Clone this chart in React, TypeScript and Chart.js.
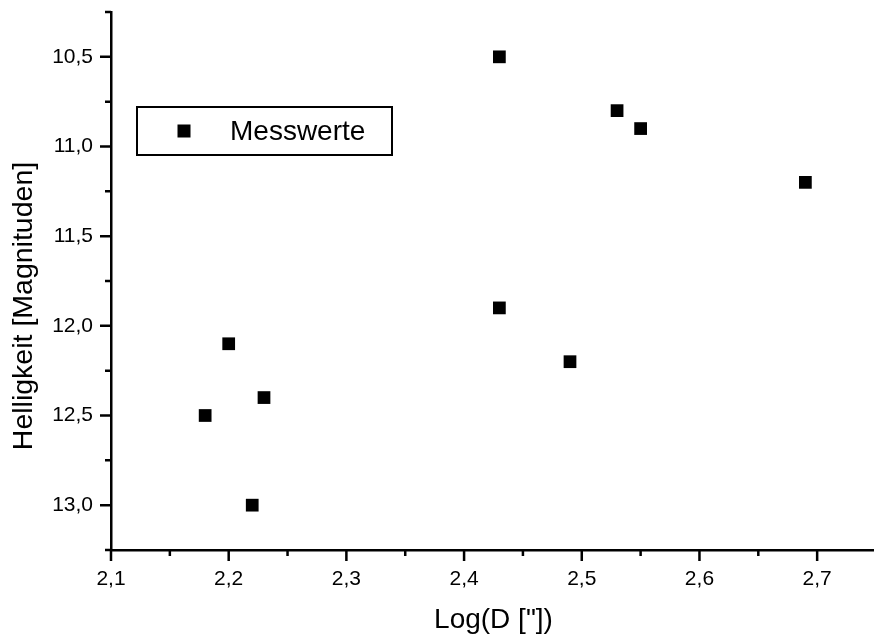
import React, { useEffect, useRef } from "react";
import { Chart, registerables } from "chart.js";

Chart.register(...registerables);

const xValues: number[] = [2.18, 2.2, 2.22, 2.23, 2.43, 2.43, 2.49, 2.53, 2.55, 2.69];
const yValues: number[] = [12.5, 12.1, 13.0, 12.4, 10.5, 11.9, 12.2, 10.8, 10.9, 11.2];
const seriesName = "Messwerte";
const xTitle = "Log(D [\"])";
const yTitle = "Helligkeit [Magnituden]";
const xMin = 2.1, xMax = 2.75, xStep = 0.05, xMajor = 0.1;
const yMin = 10.25, yMax = 13.25, yStep = 0.25, yMajor = 0.5;

const FONT = "'Liberation Sans', Arial, Helvetica, sans-serif";

const isMajor = (v: number, m: number) => Math.abs(v / m - Math.round(v / m)) < 1e-6;
const fmt = (v: number) => v.toFixed(1).replace(".", ",");

const ticksPlugin = {
  id: "customTicks",
  afterDraw(chart: any) {
    const { ctx } = chart;
    const xs = chart.scales.x;
    const ys = chart.scales.y;
    ctx.save();
    ctx.strokeStyle = "#000";
    ctx.lineWidth = 2.5;
    ctx.beginPath();
    for (const t of xs.ticks) {
      const px = xs.getPixelForValue(t.value);
      const len = isMajor(t.value, xMajor) ? 11 : 6;
      ctx.moveTo(px, xs.top);
      ctx.lineTo(px, xs.top + len);
    }
    for (const t of ys.ticks) {
      const py = ys.getPixelForValue(t.value);
      const len = isMajor(t.value, yMajor) ? 11 : 6;
      ctx.moveTo(ys.right, py);
      ctx.lineTo(ys.right - len, py);
    }
    ctx.stroke();

    // y-axis title (placed slightly below the axis centre, as in the reference)
    ctx.save();
    ctx.fillStyle = "#000";
    ctx.font = `28.5px ${FONT}`;
    ctx.textAlign = "center";
    ctx.textBaseline = "alphabetic";
    ctx.translate(31.5, 306);
    ctx.rotate(-Math.PI / 2);
    ctx.fillText(yTitle, 0, 0);
    ctx.restore();

    // legend box
    const ca = chart.chartArea;
    const bx = ca.left + 26, by = ca.top + 95, bw = 255, bh = 48;
    ctx.lineWidth = 2;
    ctx.strokeRect(bx, by, bw, bh);
    ctx.fillStyle = "#000";
    const ms = 13;
    const mx = bx + 47, my = by + 24;
    ctx.fillRect(mx - ms / 2, my - ms / 2, ms, ms);
    ctx.font = `28px ${FONT}`;
    ctx.textBaseline = "middle";
    ctx.textAlign = "left";
    ctx.fillText(seriesName, bx + 93, my + 1);
    ctx.restore();
  },
};

const zeroPad = (s: any) => {
  s.paddingTop = 0;
  s.paddingBottom = 0;
  s.paddingLeft = 0;
  s.paddingRight = 0;
};

export default function App() {
  const ref = useRef<HTMLCanvasElement | null>(null);
  useEffect(() => {
    if (!ref.current) return;
    const chart = new Chart(ref.current, {
      type: "scatter",
      data: {
        datasets: [
          {
            label: seriesName,
            data: xValues.map((x, i) => ({ x, y: yValues[i] })),
            pointStyle: "rect",
            pointRadius: 9,
            pointHoverRadius: 9,
            backgroundColor: "#000",
            borderWidth: 0,
          },
        ],
      },
      options: {
        responsive: false,
        animation: false,
        events: [],
        layout: { autoPadding: false, padding: { top: 12, right: 0, left: 0, bottom: 0 } },
        plugins: { legend: { display: false }, tooltip: { enabled: false } },
        scales: {
          x: {
            type: "linear",
            min: xMin,
            max: xMax,
            afterFit: (s: any) => { s.height = 89; zeroPad(s); },
            grid: { display: false, drawTicks: false },
            border: { display: true, color: "#000", width: 2.5 },
            ticks: {
              stepSize: xStep,
              autoSkip: false,
              maxRotation: 0,
              padding: 17,
              color: "#000",
              font: { family: FONT, size: 21 },
              callback: (v: any) => (isMajor(Number(v), xMajor) ? fmt(Number(v)) : ""),
            },
            title: {
              display: true,
              text: xTitle,
              color: "#000",
              font: { family: FONT, size: 28 },
              padding: { top: 0, bottom: 2 },
            },
          },
          y: {
            type: "linear",
            reverse: true,
            min: yMin,
            max: yMax,
            afterFit: (s: any) => { s.width = 111; zeroPad(s); },
            grid: { display: false, drawTicks: false },
            border: { display: true, color: "#000", width: 2.5 },
            ticks: {
              stepSize: yStep,
              autoSkip: false,
              padding: 18,
              color: "#000",
              font: { family: FONT, size: 21 },
              callback: (v: any) => (isMajor(Number(v), yMajor) ? fmt(Number(v)) : ""),
            },
            title: { display: false },
          },
        },
      },
      plugins: [ticksPlugin],
    } as any);
    return () => chart.destroy();
  }, []);
  return (
    <div style={{ position: "absolute", left: 0, top: 0, width: 874, height: 639, overflow: "hidden", background: "#fff" }}>
      <canvas ref={ref} width={876} height={639} style={{ display: "block" }} />
    </div>
  );
}
